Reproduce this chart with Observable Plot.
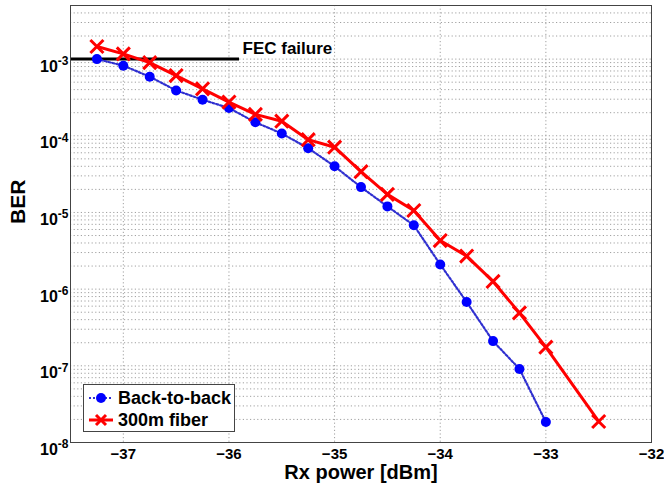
<!DOCTYPE html>
<html>
<head>
<meta charset="utf-8">
<script src="https://cdn.jsdelivr.net/npm/d3@7"></script>
<script src="https://cdn.jsdelivr.net/npm/@observablehq/plot@0.6"></script>
<style>
  body { margin: 0; background: #fff; }
  #wrap { position: relative; width: 664px; height: 489px; font-family: "Liberation Sans", Arial, sans-serif; }
  #legend { position: absolute; left: 83px; top: 384px; width: 152px; height: 48px; background: #fff; border: 1px solid #444; box-sizing: border-box; }
  .row { position: absolute; left: 4px; height: 22px; display: flex; align-items: center; font-weight: bold; font-size: 18px; color: #000; }
  .row svg { margin-right: 4px; }
</style>
</head>
<body>
<div id="wrap"></div>
<script>
// ---- data ----
const powerB2B = [-37.25, -37, -36.75, -36.5, -36.25, -36, -35.75, -35.5, -35.25, -35, -34.75, -34.5, -34.25, -34, -33.75, -33.5, -33.25, -33];
const berB2B = [1.0e-3, 8.2e-4, 5.9e-4, 3.9e-4, 2.95e-4, 2.3e-4, 1.5e-4, 1.07e-4, 6.9e-5, 4.0e-5, 2.14e-5, 1.2e-5, 6.8e-6, 2.1e-6, 6.8e-7, 2.1e-7, 9.1e-8, 1.85e-8];
const powerFiber = [-37.25, -37, -36.75, -36.5, -36.25, -36, -35.75, -35.5, -35.25, -35, -34.75, -34.5, -34.25, -34, -33.75, -33.5, -33.25, -33, -32.5];
const berFiber = [1.46e-3, 1.17e-3, 9.0e-4, 6.1e-4, 4.1e-4, 2.75e-4, 1.9e-4, 1.55e-4, 8.9e-5, 7.1e-5, 3.4e-5, 1.72e-5, 1.06e-5, 4.3e-6, 2.7e-6, 1.26e-6, 4.9e-7, 1.75e-7, 1.88e-8];
const seriesNames = ["Back-to-back", "300m fiber"];
const fecLevel = 1e-3;
const fecStart = -37.5;
const fecEnd = -35.9;
const fecLabel = "FEC failure";
const xTicks = [-37, -36, -35, -34, -33, -32];
const yTicks = [1e-8, 1e-7, 1e-6, 1e-5, 1e-4, 1e-3];
const xDomain = [-37.5, -32];
const yDomain = [1e-8, 5e-3];
const xLabel = "Rx power [dBm]";
const yLabel = "BER";

const b2b = powerB2B.map((p, i) => ({p, ber: berB2B[i]}));
const fiber = powerFiber.map((p, i) => ({p, ber: berFiber[i]}));
const yGrid = d3.scaleLog().domain(yDomain).ticks();
const xGrid = xTicks.filter(t => t > xDomain[0] && t < xDomain[1]);

const font = "Liberation Sans, Arial, sans-serif";
const gridStyle = {stroke: "#a0a0a0", strokeOpacity: 1, strokeDasharray: "1.2,2.4", strokeWidth: 1};

const chart = Plot.plot({
  width: 664,
  height: 489,
  marginLeft: 70,
  marginRight: 13,
  marginTop: 5,
  marginBottom: 47,
  style: {fontFamily: font, background: "#fff", overflow: "visible"},
  x: {domain: xDomain, label: null},
  y: {type: "log", domain: yDomain, label: null},
  marks: [
    Plot.gridY(yGrid, gridStyle),
    Plot.gridX(xGrid, gridStyle),
    Plot.axisX(xTicks, {tickSize: 0, tickPadding: 6, fontSize: 15, fontWeight: "bold", label: null}),
    Plot.axisY(yTicks, {tickSize: 0, tickPadding: 2, fontSize: 16, fontWeight: "bold", label: null,
      tickFormat: d => "10^" + Math.round(Math.log10(d))}),
    Plot.ruleY([fecLevel], {x1: fecStart, x2: fecEnd, stroke: "#000", strokeWidth: 3}),
    Plot.text([fecLabel], {x: fecEnd, y: fecLevel, text: d => d, dx: 3, dy: -11, textAnchor: "start",
      fontSize: 17, fontWeight: "bold", fill: "#000"}),
    Plot.line(b2b, {x: "p", y: "ber", stroke: "#3030d0", strokeWidth: 2.2, strokeDasharray: "2,2"}),
    Plot.dot(b2b, {x: "p", y: "ber", r: 5, fill: "#0000ff", stroke: "none"}),
    Plot.line(fiber, {x: "p", y: "ber", stroke: "#ff0000", strokeWidth: 3}),
    Plot.dot(fiber, {x: "p", y: "ber", r: 6, symbol: "times", stroke: "#ff0000", strokeWidth: 3}),
    Plot.text([xLabel], {frameAnchor: "bottom", text: d => d, dy: 36, fontSize: 20, fontWeight: "bold", fill: "#000"}),
    Plot.text([yLabel], {frameAnchor: "left", text: d => d, dx: -52, rotate: -90, fontSize: 21, fontWeight: "bold", fill: "#000"}),
    Plot.frame({stroke: "#444", strokeWidth: 1})
  ]
});

// superscript exponents on the y tick labels
chart.querySelectorAll('[aria-label="y-axis tick label"] text').forEach(t => {
  const s = t.textContent;
  const m = s.match(/^10\^(-?\d+)$/);
  if (!m) return;
  t.textContent = "";
  t.setAttribute("dy", "0.46em");
  const ns = "http://www.w3.org/2000/svg";
  const base = document.createElementNS(ns, "tspan");
  base.textContent = "10";
  const sup = document.createElementNS(ns, "tspan");
  sup.textContent = m[1];
  sup.setAttribute("dy", "-0.55em");
  sup.setAttribute("font-size", "12");
  t.appendChild(base);
  t.appendChild(sup);
});

const wrap = document.getElementById("wrap");
wrap.appendChild(chart);

// legend
const legend = document.createElement("div");
legend.id = "legend";
legend.innerHTML = `
  <div class="row" style="top:2px">
    <svg width="26" height="12"><line x1="1" y1="6" x2="25" y2="6" stroke="#3030d0" stroke-width="2.2" stroke-dasharray="2,2"/><circle cx="13" cy="6" r="5" fill="#0000ff"/></svg>${seriesNames[0]}
  </div>
  <div class="row" style="top:24px">
    <svg width="26" height="14"><line x1="1" y1="7" x2="25" y2="7" stroke="#ff0000" stroke-width="3"/><path d="M8,2L18,12M18,2L8,12" stroke="#ff0000" stroke-width="3"/></svg>${seriesNames[1]}
  </div>`;
wrap.appendChild(legend);
</script>
</body>
</html>
